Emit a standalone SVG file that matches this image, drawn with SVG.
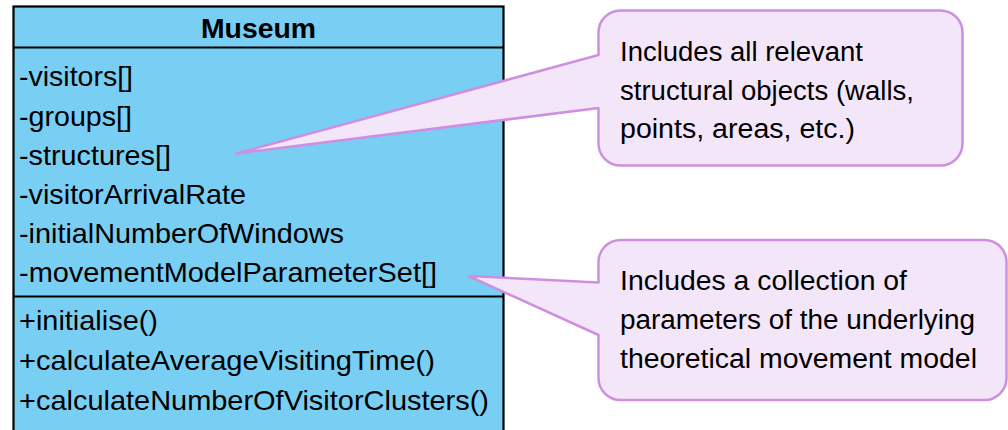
<svg xmlns="http://www.w3.org/2000/svg" width="1008" height="430" viewBox="0 0 1008 430">
  <style>
    .cls { fill: #79cef3; stroke: #000; stroke-width: 2.2; }
    .sep { stroke: #000; stroke-width: 2.2; }
    .title { font-family: "Liberation Sans", Arial, sans-serif; font-size: 28px; font-weight: bold; fill: #000; }
    .member { font-family: "Liberation Sans", Arial, sans-serif; font-size: 28px; fill: #000; }
    .note { fill: #f3e6f8; stroke: #cf8fe0; stroke-width: 2.5; stroke-linejoin: round; }
    .note-text { font-family: "Liberation Sans", Arial, sans-serif; font-size: 27px; fill: #000; }
  </style>
  <rect width="1008" height="430" fill="#fff"/>

  <!-- UML class: Museum -->
  <g id="museum">
    <rect class="cls" x="13.5" y="6.5" width="490" height="440"/>
    <line class="sep" x1="13.5" y1="47.5" x2="503.5" y2="47.5"/>
    <line class="sep" x1="13.5" y1="296.5" x2="503.5" y2="296.5"/>
    <text class="title" x="258.5" y="38" text-anchor="middle" textLength="115" lengthAdjust="spacingAndGlyphs">Museum</text>
    <text class="member" x="19" y="86" textLength="114" lengthAdjust="spacingAndGlyphs">-visitors[]</text>
    <text class="member" x="19" y="125.5" textLength="113" lengthAdjust="spacingAndGlyphs">-groups[]</text>
    <text class="member" x="19" y="164.5" textLength="152" lengthAdjust="spacingAndGlyphs">-structures[]</text>
    <text class="member" x="19" y="204" textLength="227" lengthAdjust="spacingAndGlyphs">-visitorArrivalRate</text>
    <text class="member" x="19" y="243" textLength="325" lengthAdjust="spacingAndGlyphs">-initialNumberOfWindows</text>
    <text class="member" x="19" y="281.5" textLength="418" lengthAdjust="spacingAndGlyphs">-movementModelParameterSet[]</text>
    <text class="member" x="19" y="330" textLength="139" lengthAdjust="spacingAndGlyphs">+initialise()</text>
    <text class="member" x="19" y="370" textLength="416" lengthAdjust="spacingAndGlyphs">+calculateAverageVisitingTime()</text>
    <text class="member" x="19" y="410" textLength="470" lengthAdjust="spacingAndGlyphs">+calculateNumberOfVisitorClusters()</text>
  </g>

  <!-- Note attached to -structures[] -->
  <g id="note-structures">
    <path class="note" d="M 620.5 10.5 H 940.5 A 22 22 0 0 1 962.5 32.5 V 143.5 A 22 22 0 0 1 940.5 165.5 H 620.5 A 22 22 0 0 1 598.5 143.5 V 108 L 236.5 153.5 L 598.5 55 V 32.5 A 22 22 0 0 1 620.5 10.5 Z"/>
    <text class="note-text" x="620" y="61" textLength="243" lengthAdjust="spacingAndGlyphs">Includes all relevant</text>
    <text class="note-text" x="620" y="99.5" textLength="294" lengthAdjust="spacingAndGlyphs">structural objects (walls,</text>
    <text class="note-text" x="620" y="138" textLength="235" lengthAdjust="spacingAndGlyphs">points, areas, etc.)</text>
  </g>

  <!-- Note attached to -movementModelParameterSet[] -->
  <g id="note-parameters">
    <path class="note" d="M 620.5 240 H 984.5 A 22 22 0 0 1 1006.5 262 V 378 A 22 22 0 0 1 984.5 400 H 620.5 A 22 22 0 0 1 598.5 378 V 335 L 468.5 276 L 598.5 282.5 V 262 A 22 22 0 0 1 620.5 240 Z"/>
    <text class="note-text" x="620" y="290" textLength="287" lengthAdjust="spacingAndGlyphs">Includes a collection of</text>
    <text class="note-text" x="620" y="329" textLength="355" lengthAdjust="spacingAndGlyphs">parameters of the underlying</text>
    <text class="note-text" x="620" y="368" textLength="357" lengthAdjust="spacingAndGlyphs">theoretical movement model</text>
  </g>
</svg>
